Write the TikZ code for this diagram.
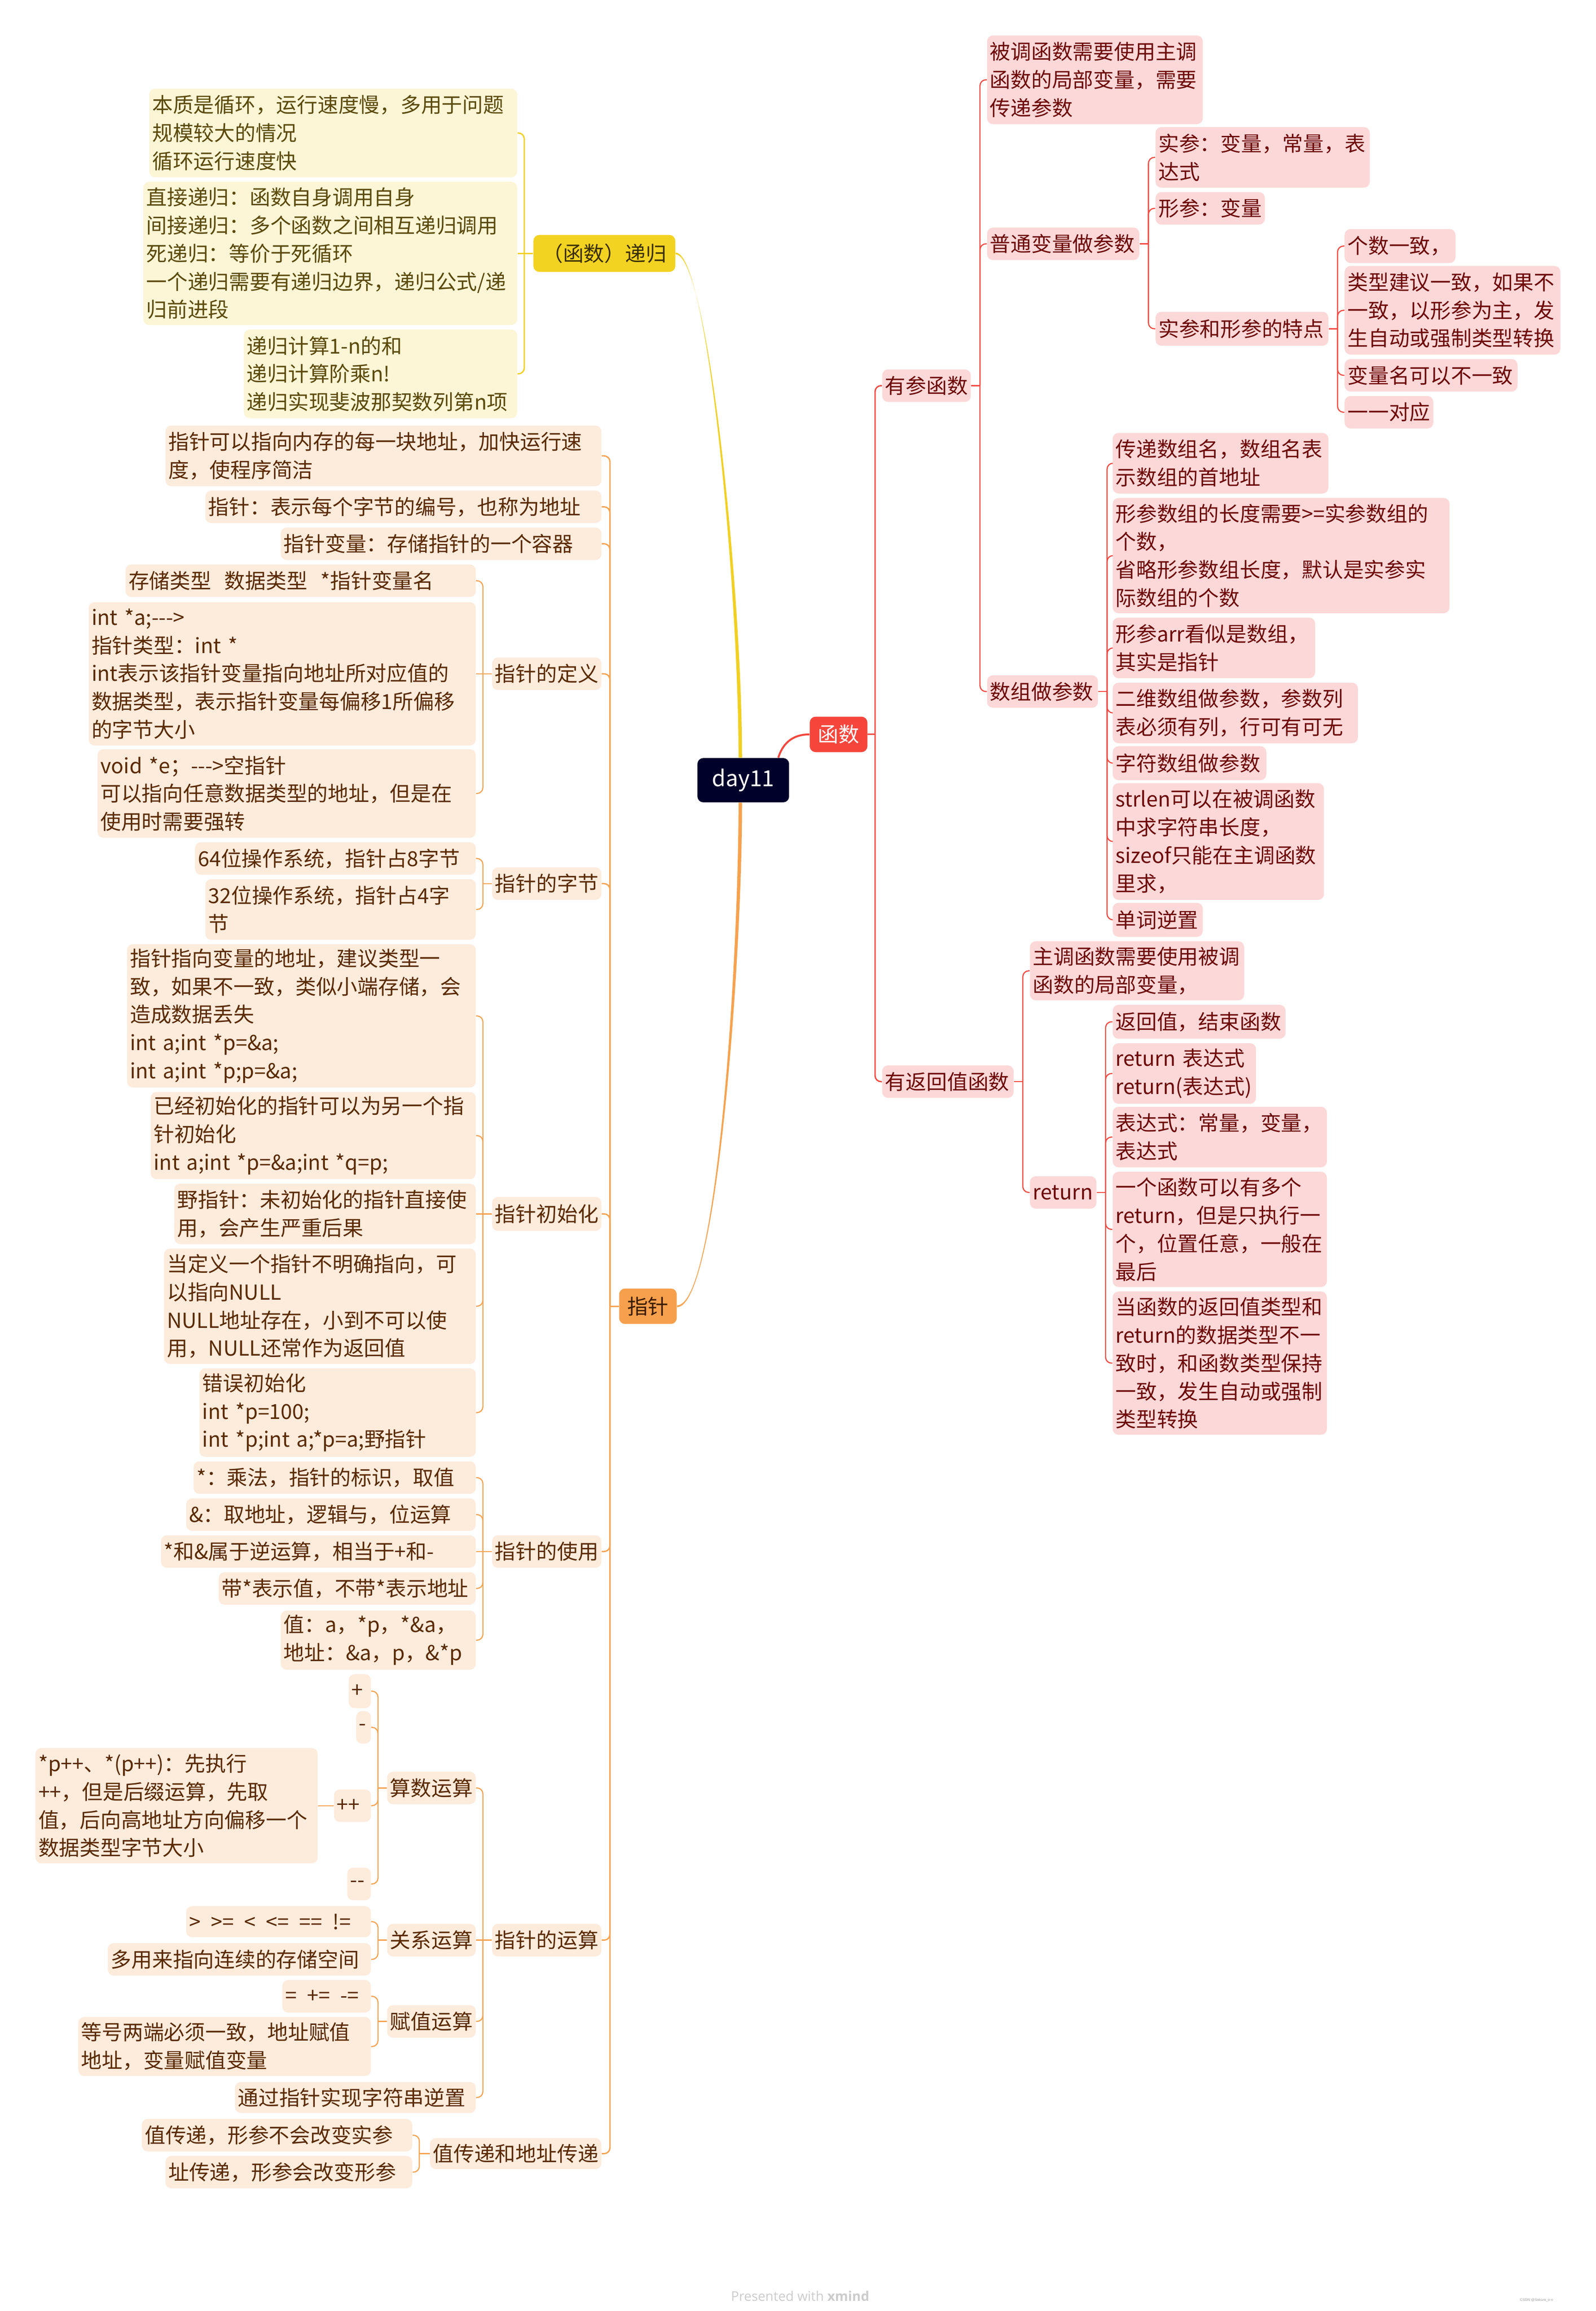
\documentclass[tikz,border=0pt]{standalone}
\usepackage{fontspec}
\newfontfamily\cjk{Noto Sans CJK SC}
\newfontfamily\footfont{Open Sans}
\newfontfamily\wmfont{Liberation Sans}
\usetikzlibrary{calc}
\definecolor{YLf}{HTML}{FCF6D6}
\definecolor{YTx}{HTML}{5B4A0C}
\definecolor{YLn}{HTML}{F1D023}
\definecolor{YMain}{HTML}{F3D322}
\definecolor{YMainTx}{HTML}{3A2F00}
\definecolor{OLf}{HTML}{FDEBDC}
\definecolor{OTx}{HTML}{5A2A00}
\definecolor{OLn}{HTML}{F6A24F}
\definecolor{OMain}{HTML}{F6A04D}
\definecolor{OMainTx}{HTML}{3A1C00}
\definecolor{RLf}{HTML}{FDD8D8}
\definecolor{RTx}{HTML}{6E0A0A}
\definecolor{RLn}{HTML}{F4473E}
\definecolor{RMain}{HTML}{F6463C}
\definecolor{RootC}{HTML}{00012B}
\definecolor{FootC}{HTML}{CCCCCC}
\definecolor{WmC}{HTML}{999999}
\pgfdeclarelayer{bg}
\pgfsetlayers{bg,main}
\newcommand\mmbox[7]{%
  \pgfmathsetlengthmacro\mmw{#4-#2-4}%
  \pgfmathsetlengthmacro\mmh{#5-#3}%
  \node[#1, text width=\mmw, minimum height=\mmh] (#6) at ({(#2+#4)/2},{(#3+#5)/2}) {#7};}
\tikzset{
  boxbase/.style={rectangle, rounded corners=4pt, inner xsep=2pt, inner ysep=1pt,
    align=left, font=\cjk\fontsize{14}{19}\selectfont},
  lfY/.style={boxbase, fill=YLf, text=YTx},
  lfO/.style={boxbase, fill=OLf, text=OTx},
  lfR/.style={boxbase, fill=RLf, text=RTx},
  mainY/.style={boxbase, align=center, fill=YMain, text=YMainTx},
  mainO/.style={boxbase, align=center, fill=OMain, text=OMainTx},
  mainR/.style={boxbase, align=center, fill=RMain, text=white},
  rootst/.style={boxbase, align=center, fill=RootC, text=white, font=\cjk\fontsize{15}{18}\selectfont},
  cY/.style={draw=YLn, line width=0.9pt},
  cO/.style={draw=OLn, line width=0.9pt},
  cOs/.style={draw=OLn, line width=0.75pt},
  cR/.style={draw=RLn, line width=0.9pt},
  cRs/.style={draw=RLn, line width=0.75pt},
  rc/.style={rounded corners=4pt},
}
\begin{document}
\begin{tikzpicture}[x=1pt,y=-1pt]
\useasboundingbox (0,0) rectangle (1079.8,1564);
% ---------- root and main topics
\mmbox{rootst}{472}{513}{534}{543}{day}{day11}
\mmbox{mainR}{548}{485}{587}{509}{fn}{函数}
\mmbox{mainY}{361}{159}{457}{184}{rec}{（函数）递归}
\mmbox{mainO}{419}{872}{458}{896}{ptr}{指针}
% ---------- recursion (yellow)
\mmbox{lfY}{101}{60}{350}{120}{y1}{本质是循环，运行速度慢，多用于问题\\规模较大的情况\\循环运行速度快}
\mmbox{lfY}{97}{123}{350}{220}{y2}{直接递归：函数自身调用自身\\间接递归：多个函数之间相互递归调用\\死递归：等价于死循环\\一个递归需要有递归边界，递归公式/递\\归前进段}
\mmbox{lfY}{165}{223}{350}{283}{y3}{递归计算1-n的和\\递归计算阶乘n!\\递归实现斐波那契数列第n项}
% ---------- pointer (orange)
\mmbox{lfO}{112}{288}{407}{329}{o1}{指针可以指向内存的每一块地址，加快运行速\\度，使程序简洁}
\mmbox{lfO}{139}{332}{407}{354}{o2}{指针：表示每个字节的编号，也称为地址}
\mmbox{lfO}{190}{357}{407}{379}{o3}{指针变量：存储指针的一个容器}
\mmbox{lfO}{333}{445}{407}{467}{def}{指针的定义}
\mmbox{lfO}{85}{382}{322}{404}{d1}{存储类型\hspace{9pt}数据类型\hspace{9pt}*指针变量名}
\mmbox{lfO}{60}{407.5}{322}{504.5}{d2}{int *a;--->\\指针类型：int *\\int表示该指针变量指向地址所对应值的\\数据类型，表示指针变量每偏移1所偏移\\的字节大小}
\mmbox{lfO}{66}{507}{322}{567}{d3}{void *e；--->空指针\\可以指向任意数据类型的地址，但是在\\使用时需要强转}
\mmbox{lfO}{333}{587}{407}{609}{byte}{指针的字节}
\mmbox{lfO}{132}{570}{322}{592}{b1}{64位操作系统，指针占8字节}
\mmbox{lfO}{139}{595}{322}{636}{b2}{32位操作系统，指针占4字\\节}
\mmbox{lfO}{333}{810}{407}{833}{init}{指针初始化}
\mmbox{lfO}{86}{639}{322}{736}{i1}{指针指向变量的地址，建议类型一\\致，如果不一致，类似小端存储，会\\造成数据丢失\\int a;int *p=\&a;\\int a;int *p;p=\&a;}
\mmbox{lfO}{102}{739}{322}{798}{i2}{已经初始化的指针可以为另一个指\\针初始化\\int a;int *p=\&a;int *q=p;}
\mmbox{lfO}{118}{801}{322}{842}{i3}{野指针：未初始化的指针直接使\\用，会产生严重后果}
\mmbox{lfO}{111}{845}{322}{923}{i4}{当定义一个指针不明确指向，可\\以指向NULL\\NULL地址存在，小到不可以使\\用，NULL还常作为返回值}
\mmbox{lfO}{135}{926}{322}{986}{i5}{错误初始化\\int *p=100;\\int *p;int a;*p=a;野指针}
\mmbox{lfO}{333}{1039}{407}{1061}{use}{指针的使用}
\mmbox{lfO}{131}{989}{322}{1011}{u1}{*：乘法，指针的标识，取值}
\mmbox{lfO}{126}{1014}{322}{1036}{u2}{\&：取地址，逻辑与，位运算}
\mmbox{lfO}{109}{1039}{322}{1061}{u3}{*和\&属于逆运算，相当于+和-}
\mmbox{lfO}{148}{1064}{322}{1086}{u4}{带*表示值，不带*表示地址}
\mmbox{lfO}{190}{1090}{322}{1130}{u5}{值：a，*p，*\&a，\\地址：\&a，p，\&*p}
\mmbox{lfO}{333}{1302}{407}{1324}{op}{指针的运算}
\mmbox{lfO}{262}{1199}{322}{1221}{ar}{算数运算}
\mmbox{lfO}{236}{1133}{251}{1156}{a1}{+}
\mmbox{lfO}{241}{1158}{251}{1180}{a2}{-}
\mmbox{lfO}{226}{1211}{251}{1233}{a3}{++}
\mmbox{lfO}{24}{1183}{215}{1261}{a3c}{*p++、*(p++)：先执行\\++，但是后缀运算，先取\\值，后向高地址方向偏移一个\\数据类型字节大小}
\mmbox{lfO}{235}{1264}{251}{1286}{a4}{--}
\mmbox{lfO}{262}{1302}{322}{1324}{rel}{关系运算}
\mmbox{lfO}{126}{1290}{251}{1311}{r1}{>\hspace{.5em}>=\hspace{.5em}<\hspace{.5em}<=\hspace{.5em}==\hspace{.5em}!=}
\mmbox{lfO}{73}{1315}{251}{1337}{r2}{多用来指向连续的存储空间}
\mmbox{lfO}{262}{1357}{322}{1379}{asg}{赋值运算}
\mmbox{lfO}{191}{1340}{251}{1362}{s1}{=\hspace{.5em}+=\hspace{.5em}-=}
\mmbox{lfO}{53}{1365}{251}{1405}{s2}{等号两端必须一致，地址赋值\\地址，变量赋值变量}
\mmbox{lfO}{159}{1409}{322}{1430}{rev}{通过指针实现字符串逆置}
\mmbox{lfO}{291}{1447}{407}{1468}{pass}{值传递和地址传递}
\mmbox{lfO}{96}{1434}{279}{1456}{p1}{值传递，形参不会改变实参}
\mmbox{lfO}{112}{1459}{279}{1481}{p2}{址传递，形参会改变形参}
% ---------- function (red)
\mmbox{lfR}{597}{250}{657}{272}{yc}{有参函数}
\mmbox{lfR}{668}{24}{814}{84}{yc1}{被调函数需要使用主调\\函数的局部变量，需要\\传递参数}
\mmbox{lfR}{668}{154}{771}{176}{pv}{普通变量做参数}
\mmbox{lfR}{782}{86}{927}{127}{pv1}{实参：变量，常量，表\\达式}
\mmbox{lfR}{782}{130}{856}{152}{pv2}{形参：变量}
\mmbox{lfR}{782}{211}{899}{234}{pv3}{实参和形参的特点}
\mmbox{lfR}{910}{155}{985}{178}{t1}{个数一致，}
\mmbox{lfR}{910}{180}{1056}{240}{t2}{类型建议一致，如果不\\一致，以形参为主，发\\生自动或强制类型转换}
\mmbox{lfR}{910}{243}{1027}{265}{t3}{变量名可以不一致}
\mmbox{lfR}{910}{268}{970}{290}{t4}{一一对应}
\mmbox{lfR}{668}{457}{743}{479}{arr}{数组做参数}
\mmbox{lfR}{753}{293}{899}{334}{ar1}{传递数组名，数组名表\\示数组的首地址}
\mmbox{lfR}{753}{337}{981}{415}{ar2}{形参数组的长度需要>=实参数组的\\个数，\\省略形参数组长度，默认是实参实\\际数组的个数}
\mmbox{lfR}{753}{418}{890}{459}{ar3}{形参arr看似是数组，\\其实是指针}
\mmbox{lfR}{753}{462}{919}{503}{ar4}{二维数组做参数，参数列\\表必须有列，行可有可无}
\mmbox{lfR}{753}{505}{857}{528}{ar5}{字符数组做参数}
\mmbox{lfR}{753}{530}{896}{609}{ar6}{strlen可以在被调函数\\中求字符串长度，\\sizeof只能在主调函数\\里求，}
\mmbox{lfR}{753}{611}{814}{634}{ar7}{单词逆置}
\mmbox{lfR}{597}{721}{686}{743}{ret}{有返回值函数}
\mmbox{lfR}{697}{637}{842}{677}{rt1}{主调函数需要使用被调\\函数的局部变量，}
\mmbox{lfR}{697}{796}{742}{818}{rtr}{return}
\mmbox{lfR}{753}{680}{870}{703}{q1}{返回值，结束函数}
\mmbox{lfR}{753}{706}{850}{747}{q2}{return~表达式\\return(表达式)}
\mmbox{lfR}{753}{749}{898}{790}{q3}{表达式：常量，变量，\\表达式}
\mmbox{lfR}{753}{793}{898}{871}{q4}{一个函数可以有多个\\return，但是只执行一\\个，位置任意，一般在\\最后}
\mmbox{lfR}{753}{874}{898}{971}{q5}{当函数的返回值类型和\\return的数据类型不一\\致时，和函数类型保持\\一致，发生自动或强制\\类型转换}
% ---------- footer
\node[font=\footfont\fontsize{9}{10}\selectfont, text=FootC] (foot) at (541.5,1554) {Presented with \textbf{xmind}};
\node[font=\wmfont\fontsize{2.4}{3}\selectfont, text=WmC, anchor=west, inner sep=0pt] (wm) at (1028.5,1556.5) {CSDN @Sakura\_o-o};
% ---------- connectors
\begin{pgfonlayer}{bg}
\fill[white] (0,0) rectangle (1079.8,1564);
% root curves
\fill[YLn] ($(day.north)+(-3.2,0)$) .. controls ($(day.north)+(-3.2,-112)$) and ($(rec.east)+(22,-0.6)$) .. ($(rec.east)+(0,-0.6)$)
  -- ($(rec.east)+(0,0.6)$) .. controls ($(rec.east)+(22,0.6)$) and ($(day.north)+(-0.8,-112)$) .. ($(day.north)+(-0.8,0)$) -- cycle;
\fill[OLn] ($(day.south)+(-3.2,0)$) .. controls ($(day.south)+(-3.2,107)$) and ($(ptr.east)+(27,-0.6)$) .. ($(ptr.east)+(0,-0.6)$)
  -- ($(ptr.east)+(0,0.6)$) .. controls ($(ptr.east)+(27,0.6)$) and ($(day.south)+(-0.8,107)$) .. ($(day.south)+(-0.8,0)$) -- cycle;
\draw[RLn, line width=1.3pt] ($(day.north east)+(-7.5,0)$) .. controls ($(day.north east)+(-5,-8)$) and ($(fn.west)+(-13,0)$) .. (fn.west);
% yellow branch
\coordinate (jrec) at ($(rec.west)+(-6,0)$);
\draw[cY] (rec.west) -- (jrec);
\draw[cY, rc] (jrec) |- (y1.east);
\draw[cY] (jrec) -- (y2.east);
\draw[cY, rc] (jrec) |- (y3.east);
% orange branch
\coordinate (jptr) at ($(ptr.west)+(-6,0)$);
\draw[cO] (ptr.west) -- (jptr);
\foreach \nm in {o1,o2,o3,def,byte,init,use,op,pass} \draw[cO, rc] (jptr) |- (\nm.east);
\coordinate (jdef) at ($(def.west)+(-6,0)$);
\draw[cOs] (def.west) -- (jdef);
\foreach \nm in {d1,d3} \draw[cOs, rc] (jdef) |- (\nm.east);
\draw[cOs] (jdef) -- (d2.east);
\coordinate (jbyte) at ($(byte.west)+(-6,0)$);
\draw[cOs] (byte.west) -- (jbyte);
\foreach \nm in {b1,b2} \draw[cOs, rc] (jbyte) |- (\nm.east);
\coordinate (jinit) at ($(init.west)+(-6,0)$);
\draw[cOs] (init.west) -- (jinit);
\foreach \nm in {i1,i2,i4,i5} \draw[cOs, rc] (jinit) |- (\nm.east);
\draw[cOs] (jinit) -- (i3.east);
\coordinate (juse) at ($(use.west)+(-6,0)$);
\draw[cOs] (use.west) -- (juse);
\foreach \nm in {u1,u2,u4,u5} \draw[cOs, rc] (juse) |- (\nm.east);
\draw[cOs] (juse) -- (u3.east);
\coordinate (jop) at ($(op.west)+(-6,0)$);
\draw[cOs] (op.west) -- (jop);
\foreach \nm in {ar,asg,rev} \draw[cOs, rc] (jop) |- (\nm.east);
\draw[cOs] (jop) -- (rel.east);
\coordinate (jar) at ($(ar.west)+(-6,0)$);
\draw[cOs] (ar.west) -- (jar);
\foreach \nm in {a1,a2,a3,a4} \draw[cOs, rc] (jar) |- (\nm.east);
\draw[cOs] (a3.west) -- (a3c.east);
\coordinate (jrel) at ($(rel.west)+(-6,0)$);
\draw[cOs] (rel.west) -- (jrel);
\foreach \nm in {r1,r2} \draw[cOs, rc] (jrel) |- (\nm.east);
\coordinate (jasg) at ($(asg.west)+(-6,0)$);
\draw[cOs] (asg.west) -- (jasg);
\foreach \nm in {s1,s2} \draw[cOs, rc] (jasg) |- (\nm.east);
\coordinate (jpass) at ($(pass.west)+(-7,0)$);
\draw[cOs] (pass.west) -- (jpass);
\foreach \nm in {p1,p2} \draw[cOs, rc] (jpass) |- (\nm.east);
% red branch
\coordinate (jfn) at ($(fn.east)+(5,0)$);
\draw[cR] (fn.east) -- (jfn);
\foreach \nm in {yc,ret} \draw[cR, rc] (jfn) |- (\nm.west);
\coordinate (jyc) at ($(yc.east)+(6,0)$);
\draw[cRs] (yc.east) -- (jyc);
\foreach \nm in {yc1,pv,arr} \draw[cRs, rc] (jyc) |- (\nm.west);
\coordinate (jpv) at ($(pv.east)+(6,0)$);
\draw[cRs] (pv.east) -- (jpv);
\foreach \nm in {pv1,pv2,pv3} \draw[cRs, rc] (jpv) |- (\nm.west);
\coordinate (jpvt) at ($(pv3.east)+(6,0)$);
\draw[cRs] (pv3.east) -- (jpvt);
\foreach \nm in {t1,t2,t3,t4} \draw[cRs, rc] (jpvt) |- (\nm.west);
\coordinate (jarr) at ($(arr.east)+(6,0)$);
\draw[cRs] (arr.east) -- (jarr);
\foreach \nm in {ar1,ar2,ar3,ar4,ar5,ar6,ar7} \draw[cRs, rc] (jarr) |- (\nm.west);
\coordinate (jret) at ($(ret.east)+(6,0)$);
\draw[cRs] (ret.east) -- (jret);
\foreach \nm in {rt1,rtr} \draw[cRs, rc] (jret) |- (\nm.west);
\coordinate (jrtr) at ($(rtr.east)+(6,0)$);
\draw[cRs] (rtr.east) -- (jrtr);
\foreach \nm in {q1,q2,q3,q4,q5} \draw[cRs, rc] (jrtr) |- (\nm.west);
\end{pgfonlayer}
\end{tikzpicture}
\end{document}
